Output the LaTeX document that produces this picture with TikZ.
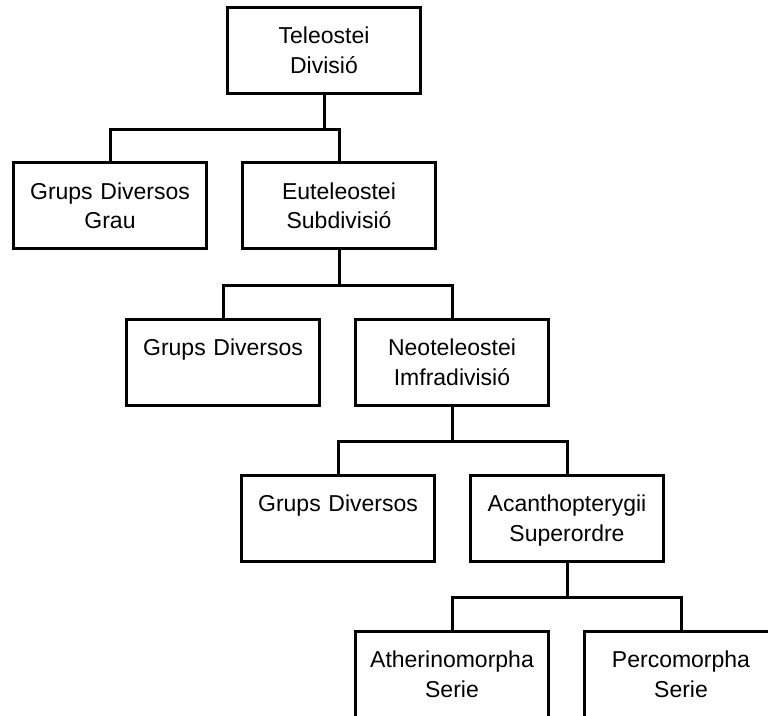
\documentclass[tikz,border=0pt]{standalone}
\usepackage{fontspec}
\setmainfont{Liberation Sans}
\usepackage{tikz}
\usetikzlibrary{calc}

\begin{document}
\begin{tikzpicture}[x=1pt,y=-1pt,node distance=229pt,line width=3pt,
  box/.style={draw,rectangle,text width=193pt,align=center,inner sep=0pt,
    text height=36.5pt,text depth=49.5pt,font=\fontsize{23}{29.5}\selectfont}]
\useasboundingbox (0,0) rectangle (768,715);
\clip (0,0) rectangle (768,715);

\node[box] (n0) at (324,50) {Teleostei\\Divisió};
\node[box] (n1) at (110,205.5) {Grups Diversos\\Grau};
\node[box] (n2) [right of=n1] {Euteleostei\\Subdivisió};
\node[box] (n3) at (223,362) {Grups Diversos};
\node[box] (n4) [right of=n3] {Neoteleostei\\Imfradivisió};
\node[box] (n5) at (338,518) {Grups Diversos};
\node[box] (n6) [right of=n5] {Acanthopterygii\\Superordre};
\node[box] (n7) at (452,674) {Atherinomorpha\\Serie};
\node[box] (n8) [right of=n7] {Percomorpha\\Serie};

\draw (n0.south) -- ++(0,35) -| (n1.north);
\draw (n0.south) -- ++(0,35) -| (n2.north);
\draw (n2.south) -- ++(0,35) -| (n3.north);
\draw (n2.south) -- ++(0,35) -| (n4.north);
\draw (n4.south) -- ++(0,35) -| (n5.north);
\draw (n4.south) -- ++(0,35) -| (n6.north);
\draw (n6.south) -- ++(0,35) -| (n7.north);
\draw (n6.south) -- ++(0,35) -| (n8.north);
\end{tikzpicture}
\end{document}
